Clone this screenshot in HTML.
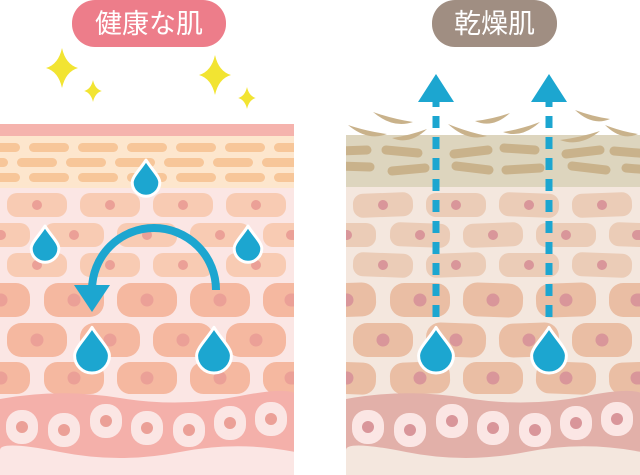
<!DOCTYPE html>
<html><head><meta charset="utf-8"><style>
html,body{margin:0;padding:0;background:#fff;width:640px;height:475px;overflow:hidden}
svg{display:block}
</style></head><body>
<svg id="s" width="640" height="475" viewBox="0 0 640 475" xmlns="http://www.w3.org/2000/svg">
<rect x="72" y="0" width="154" height="47" rx="23" fill="#ed7d8a"/>
<text x="149" y="33" text-anchor="middle" font-family="Liberation Sans, Noto Sans CJK JP, sans-serif" font-size="27" fill="#fff">健康な肌</text>
<rect x="432" y="0" width="125" height="47" rx="23" fill="#a08e82"/>
<text x="494.5" y="33" text-anchor="middle" font-family="Liberation Sans, Noto Sans CJK JP, sans-serif" font-size="27" fill="#fff">乾燥肌</text>
<g id="L"></g><g id="R"></g><g id="T"></g>
</svg>
<script>
const NS="http://www.w3.org/2000/svg";
function el(p,t,a){const e=document.createElementNS(NS,t);for(const k in a)e.setAttribute(k,a[k]);p.appendChild(e);return e;}
const L=document.getElementById('L'),R=document.getElementById('R'),T=document.getElementById('T');
function sparkle(cx,cy,r){const k=r*0.18;el(T,'path',{d:`M${cx} ${cy-r}Q${cx+k} ${cy-k} ${cx+r*0.8} ${cy}Q${cx+k} ${cy+k} ${cx} ${cy+r}Q${cx-k} ${cy+k} ${cx-r*0.8} ${cy}Q${cx-k} ${cy-k} ${cx} ${cy-r}Z`,fill:'#f2e432'});}
sparkle(62,68,20);sparkle(93,91,11);sparkle(215,75,20);sparkle(247,98,11);
function panel(g,x0,c){
  const W=294;
  const cp=el(g,'clipPath',{id:'cp'+x0});el(cp,'rect',{x:x0,y:0,width:W,height:475});
  const gg=el(g,'g',{'clip-path':`url(#cp${x0})`});
  const top=c.slant?135:124;
  el(gg,'rect',{x:x0,y:top,width:W,height:475-top,fill:c.bg});
  if(c.top)el(gg,'rect',{x:x0,y:124,width:W,height:12,fill:c.top});
  el(gg,'rect',{x:x0,y:top+(c.slant?0:12),width:W,height:52,fill:c.sc});
  if(c.slant){
    [[340,151,367,150],[386,150,418,153],[454,154,488,150],[504,148,535,150],[566,154,600,150],[614,151,650,154],
     [340,166,370,167],[392,171,425,168],[456,166,489,170],[506,170,540,168],[572,166,606,170],[626,168,650,170]].forEach(([a,b,cc,d])=>{
      el(gg,'line',{x1:a,y1:b,x2:cc,y2:d,stroke:c.bar,'stroke-width':9,'stroke-linecap':'round'});});
  } else {
  [[147,0],[162,4],[177,0]].forEach(([y,o],i)=>{
    for(let x=-20+o+(i==1?-16:0);x<W;x+=49){
      el(gg,'rect',{x:x0+x,y:y-4,width:40,height:9,rx:4.5,fill:c.bar});
    }
  });}
  const rows=[[205,24,0,c.cell1],[235,24,1,c.cell1],[265,24,0,c.cell1],[300,34,1,c.cell2],[340,34,0,c.cell2],[378,32,1,c.cell2]];
  rows.forEach(([cy,h,off,col],ri)=>{
    const xs=off?[-30,44,117,190,263]:[7,80,153,226];
    xs.forEach((x,j)=>{
      const w=60;const rot=c.slant?((ri+j)%3-1)*2:0;
      const gx=el(gg,'g',{transform:`rotate(${rot} ${x0+x+w/2} ${cy})`});
      el(gx,'rect',{x:x0+x,y:cy-h/2,width:w,height:h,rx:h/2.4,fill:col});
      el(gx,'circle',{cx:x0+x+w/2,cy:cy,r:h>30?6.5:5,fill:c.nuc});
    });
    if(off){el(gg,'circle',{cx:x0+1,cy:cy,r:h>30?6.5:5,fill:c.nuc});el(gg,'circle',{cx:x0+W-3,cy:cy,r:h>30?6.5:5,fill:c.nuc});}
  });
  el(gg,'path',{d:`M${x0} 399 Q${x0+60} 388 ${x0+120} 398 T${x0+240} 396 T${x0+300} 400 L${x0+300} 453 Q${x0+240} 440 ${x0+180} 452 T${x0+60} 452 T${x0} 450Z`,fill:c.basal});
  [[22,427],[64,430],[106,421],[147,428],[189,430],[230,423],[271,419]].forEach(([x,y])=>{
    el(gg,'rect',{x:x0+x-16,y:y-17,width:32,height:34,rx:15,fill:'#fbe6e4'});
    el(gg,'circle',{cx:x0+x,cy:y,r:6,fill:c.nuc});
  });
}
panel(L,0,{bg:'#fbe6e4',top:'#f5b3ad',sc:'#fde6cd',bar:'#f7c699',cell1:'#f8cbb3',cell2:'#f5b8a0',nuc:'#eba097',basal:'#f4b0aa'});
panel(R,346,{bg:'#f4e7de',sc:'#ddd5be',bar:'#c9b28b',cell1:'#ebccb7',cell2:'#eabea4',nuc:'#d9969a',basal:'#e2b0a9',slant:1});
[[373,112,413,122],[348,125,387,134],[392,138,427,129],[448,124,487,136],[475,121,510,113],[503,132,540,122],[560,140,600,131],[575,110,610,119],[605,125,638,134]].forEach(([a,b,cc,d])=>{
  const mx=(a+cc)/2,my=(b+d)/2;
  el(T,'path',{d:`M${a} ${b} Q${mx} ${my+12} ${cc} ${d} Q${mx} ${my+2} ${a} ${b}Z`,fill:'#c9b28b'});
});
function drop(x,y,s){const h=26*s,w=12*s;
  el(T,'path',{d:`M${x} ${y-h*0.6} C${x+w*0.4} ${y-h*0.3} ${x+w} ${y-h*0.05} ${x+w} ${y+h*0.15} A${w} ${w} 0 0 1 ${x-w} ${y+h*0.15} C${x-w} ${y-h*0.05} ${x-w*0.4} ${y-h*0.3} ${x} ${y-h*0.6}Z`,fill:'#1ca6d0',stroke:'#fff','stroke-width':3,'stroke-linejoin':'round'});}
drop(146,178,1.15);drop(45,244,1.15);drop(248,244,1.15);drop(92,350,1.45);drop(214,350,1.45);
[436,549].forEach(x=>{
  el(T,'line',{x1:x,y1:317,x2:x,y2:100,stroke:'#1ca6d0','stroke-width':7,'stroke-dasharray':'12 9'});
  el(T,'path',{d:`M${x-18} 102 L${x} 74 L${x+18} 102Z`,fill:'#1ca6d0'});
  drop(x,350,1.45);
});
el(T,'path',{d:'M216 290 A62 62 0 0 0 92 290',fill:'none',stroke:'#1ca6d0','stroke-width':8});
el(T,'path',{d:'M74 285 L110 285 L92 312Z',fill:'#1ca6d0'});
</script>
</body></html>
